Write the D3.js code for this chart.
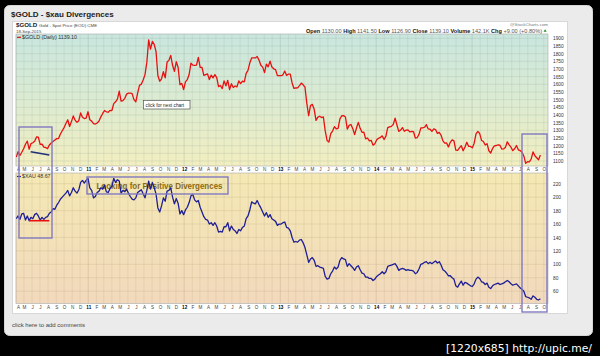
<!DOCTYPE html>
<html><head><meta charset="utf-8">
<script src="https://cdn.jsdelivr.net/npm/d3@7"></script>
<style>html,body{margin:0;padding:0;background:#000;overflow:hidden}svg{display:block;font-family:"Liberation Sans",Arial,sans-serif}</style>
</head><body><svg id="c" width="600" height="356"></svg>
<script>
// ---- data: weekly (Friday) closes, one array per year ----
const yearStarts = ["2010-04-02","2011-01-07","2012-01-06","2013-01-04","2014-01-03","2015-01-02"];
const gold2010 = [1125,1161,1136,1157,1180, 1209,1230,1177,1213, 1219,1229,1257,1256, 1208,1210,1190,1188,1181, 1204,1217,1227,1237, 1246,1246,1276,1297, 1318,1345,1369,1325,1357, 1394,1366,1352,1363, 1413,1385,1377,1380,1421];
const gold2011 = [1369,1360,1343,1341, 1348,1361,1388,1410, 1429,1421,1418,1430, 1429,1474,1486,1504,1556, 1491,1493,1509,1536, 1542,1542,1539,1500, 1486,1542,1593,1601,1628, 1663,1743,1890,1830, 1880,1860,1814,1657,1620, 1636,1682,1642,1745, 1756,1788,1724,1685, 1747,1711,1598,1606,1566];
const gold2012 = [1616,1631,1664,1738, 1725,1724,1725,1776, 1711,1711,1658,1663,1668, 1631,1660,1642,1663, 1644,1585,1592,1572, 1622,1590,1626,1566,1604, 1579,1589,1583,1622, 1605,1620,1616,1671,1691, 1740,1772,1773,1772, 1781,1758,1724,1712, 1676,1731,1714,1751,1713, 1701,1696,1657,1656];
const gold2013 = [1656,1662,1687,1658, 1667,1667,1609,1573, 1576,1577,1592,1608,1597, 1581,1476,1395,1462, 1469,1437,1365,1386,1392, 1383,1387,1296,1234, 1223,1278,1295,1324, 1310,1312,1375,1395,1396, 1387,1308,1332,1338, 1310,1272,1315,1352, 1313,1287,1288,1244,1250, 1231,1235,1203,1213];
const gold2014 = [1238,1248,1254,1264,1240, 1262,1318,1323,1326, 1339,1379,1335,1293, 1302,1318,1294,1301, 1302,1290,1293,1292,1250, 1252,1274,1316,1316, 1320,1337,1309,1307, 1293,1309,1305,1280,1287, 1268,1231,1216,1218, 1192,1222,1238,1231,1171, 1169,1185,1200,1167, 1191,1222,1195,1195];
const gold2015 = [1186,1216,1277,1293,1279, 1234,1227,1204,1213, 1167,1152,1182,1199, 1201,1205,1203,1178, 1179,1189,1225,1205,1190, 1168,1180,1201,1173, 1168,1157,1133,1085,1095, 1094,1113,1160,1134, 1121,1108,1139.1];

const xau2010 = [168,172,167,175,176, 166,172,165,170, 168,174,176,172, 166,170,167,170,171, 176,178,183,182, 188,192,197,200, 203,206,210,202,207, 214,209,206,211, 222,225,221,225,228];
const xau2011 = [214,210,199,201, 207,209,214,212, 218,208,207,213, 216,228,222,226,224, 206,210,208,212, 206,201,197,196, 199,207,209,211,205, 199,210,224,212, 222,214,205,184,178, 187,199,194,209, 210,214,200,190, 198,191,175,180,174];
const xau2012 = [181,185,192,202, 204,196,193,195, 185,178,171,167,166, 160,162,158,162, 157,148,149,148, 156,156,162,150,157, 152,150,146,152, 150,155,157,168,172, 181,193,191,190, 195,189,184,178, 172,177,170,174,168, 166,164,158,160];
const xau2013 = [160,162,163,155, 154,150,140,133, 134,133,136,137,132, 125,114,103,108, 110,106,97,98,96, 95,94,82,78, 79,86,90,96, 93,96,106,110,108, 107,97,101,98, 95,91,96,98, 92,87,86,81,81, 79,79,76,78];
const xau2014 = [82,84,86,89,86, 89,97,98,99, 100,101,97,91, 93,94,93,91, 92,91,91,90,86, 88,93,100,101, 103,104,101,103, 101,103,105,102,104, 99,92,90,87, 83,83,80,78,68, 66,71,75,69, 73,72,70,68];
const xau2015 = [67,71,78,81,79, 74,73,70,72, 66,64,68,70, 71,72,70,71, 72,74,76,74,71, 69,70,71,68, 65,63,60,52,51, 50,48,53,51, 48,47,48.67];

const goldTicks = [1100,1150,1200,1250,1300,1350,1400,1450,1500,1550,1600,1650,1700,1750,1800,1850,1900];
const xauTicks = [60,80,100,120,140,160,180,200,220];
const monthLetters = ["J","F","M","A","M","J","J","A","S","O","N","D"];

// ---- build series ----
const parse = d3.timeParse("%Y-%m-%d");
function build(arrs){
  const out=[];
  arrs.forEach((a,k)=>{const s=parse(yearStarts[k]); a.forEach((v,i)=>out.push({date:d3.timeDay.offset(s,7*i),v}));});
  return out;
}
const goldData = build([gold2010,gold2011,gold2012,gold2013,gold2014,gold2015]);
const xauData = build([xau2010,xau2011,xau2012,xau2013,xau2014,xau2015]);

// ---- layout ----
const L=16, R=548, T1=34, B1=166, T2=173, B2=303.5;
const x = d3.scaleTime().domain([new Date(2010,3,1), new Date(2015,9,17)]).range([L,R]);
const yG = d3.scaleLinear().domain([1067.4,1928]).range([B1,T1]);
const yX = d3.scaleLinear().domain([41.7,236]).range([B2,T2]);

const svg = d3.select("#c");
const defs = svg.append("defs");
const g1 = defs.append("linearGradient").attr("id","gt").attr("x1",0).attr("y1",0).attr("x2",0).attr("y2",1);
g1.append("stop").attr("offset","0%").attr("stop-color","#c9e6de");
g1.append("stop").attr("offset","50%").attr("stop-color","#dcebd2");
g1.append("stop").attr("offset","100%").attr("stop-color","#f2eec0");
const g2 = defs.append("linearGradient").attr("id","gb").attr("x1",0).attr("y1",0).attr("x2",0).attr("y2",1);
g2.append("stop").attr("offset","0%").attr("stop-color","#f4e9b4");
g2.append("stop").attr("offset","100%").attr("stop-color","#f2d9bd");
defs.append("clipPath").attr("id","c1").append("rect").attr("x",L).attr("y",T1).attr("width",R-L).attr("height",B1-T1);
defs.append("clipPath").attr("id","c2").append("rect").attr("x",L).attr("y",T2).attr("width",R-L).attr("height",B2-T2);

svg.append("rect").attr("width",600).attr("height",356).attr("fill","#000");
svg.append("rect").attr("x",4.5).attr("y",5.5).attr("width",588).attr("height",330).attr("rx",5).attr("fill","#ebebeb").attr("stroke","#d6d6d6");
svg.append("text").attr("x",11).attr("y",16.5).attr("font-size",8).attr("font-weight","bold").attr("fill","#222").text("$GOLD - $xau Divergences");
svg.append("rect").attr("x",12.5).attr("y",21.5).attr("width",555).attr("height",292).attr("fill","#fff").attr("stroke","#d8d8d8");
svg.append("text").attr("x",12).attr("y",327).attr("font-size",6).attr("fill","#444").text("click here to add comments");
svg.append("text").attr("x",446).attr("y",352).attr("font-size",10.5).attr("fill","#fff").attr("font-family","DejaVu Sans Condensed, DejaVu Sans")
  .attr("textLength",146).attr("lengthAdjust","spacingAndGlyphs").text("[1220x685] http://upic.me/");

// panels
svg.append("rect").attr("x",L).attr("y",T1).attr("width",R-L).attr("height",B1-T1).attr("fill","url(#gt)");
svg.append("rect").attr("x",L).attr("y",T2).attr("width",R-L).attr("height",B2-T2).attr("fill","url(#gb)");

// grid
const months = d3.timeMonth.range(new Date(2010,3,1), new Date(2015,9,17));
const grid = svg.append("g").attr("stroke-width",0.6);
[[T1,B1,"#7f9c8c"],[T2,B2,"#a89060"]].forEach(([t,b,c])=>{
  grid.selectAll(null).data(months).enter().append("line")
    .attr("x1",d=>x(d)).attr("x2",d=>x(d)).attr("y1",t).attr("y2",b)
    .attr("stroke",c).attr("stroke-opacity",d=>d.getMonth()===0?0.45:0.25);
});
grid.selectAll(null).data(goldTicks).enter().append("line").attr("x1",L).attr("x2",R)
  .attr("y1",d=>yG(d)).attr("y2",d=>yG(d)).attr("stroke","#7f9c8c").attr("stroke-opacity",0.3);
grid.selectAll(null).data(xauTicks).enter().append("line").attr("x1",L).attr("x2",R)
  .attr("y1",d=>yX(d)).attr("y2",d=>yX(d)).attr("stroke","#a89060").attr("stroke-opacity",0.3);

// panel borders
svg.append("rect").attr("x",L).attr("y",T1).attr("width",R-L).attr("height",B1-T1).attr("fill","none").attr("stroke","#aaa").attr("stroke-width",0.6);
svg.append("rect").attr("x",L).attr("y",T2).attr("width",R-L).attr("height",B2-T2).attr("fill","none").attr("stroke","#aaa").attr("stroke-width",0.6);

// axes
function styleAxis(g,fs){g.select(".domain").remove();g.selectAll("text").attr("font-size",fs).attr("fill","#333").attr("font-family","Liberation Sans, Arial, sans-serif");}
svg.append("g").attr("transform",`translate(${R},0)`).call(d3.axisRight(yG).tickValues(goldTicks).tickFormat(d3.format("d")).tickSize(0).tickPadding(5)).call(g=>styleAxis(g,4.8));
svg.append("g").attr("transform",`translate(${R},0)`).call(d3.axisRight(yX).tickValues(xauTicks).tickFormat(d3.format("d")).tickSize(0).tickPadding(5)).call(g=>styleAxis(g,4.8));
const mfmt = d=>d.getMonth()===0?String(d.getFullYear()).slice(2):monthLetters[d.getMonth()];
[167.3,305.5].forEach(yy=>{
  svg.append("g").attr("transform",`translate(0,${yy})`)
    .call(d3.axisBottom(x).tickValues(months).tickFormat(mfmt).tickSize(0).tickPadding(0))
    .call(g=>{styleAxis(g,4.6); g.selectAll("text").attr("font-weight",d=>d.getMonth()===0?"bold":"normal").attr("fill",d=>d.getMonth()===0?"#000":"#444")
      .attr("dx",(d,i)=>i===0?2:0);});
});

// header texts inside chart image
const hdr = svg.append("g").attr("fill","#222");
hdr.append("text").attr("x",16).attr("y",26.5).attr("font-size",6.2).attr("font-weight","bold").text("$GOLD");
hdr.append("text").attr("x",39).attr("y",26.5).attr("font-size",4.4).attr("fill","#444").text("Gold - Spot Price (EOD)  CME");
hdr.append("text").attr("x",16).attr("y",33).attr("font-size",4.4).attr("fill","#444").text("18-Sep-2015");
hdr.append("text").attr("x",548).attr("y",26).attr("font-size",4.4).attr("fill","#777").attr("text-anchor","end").text("@StockCharts.com");
const ohlc = hdr.append("text").attr("x",306).attr("y",32.7).attr("font-size",4.9).attr("textLength",236).attr("lengthAdjust","spacingAndGlyphs");
[["Open ",1],["1130.00  ",0],["High ",1],["1141.50  ",0],["Low ",1],["1126.90  ",0],["Close ",1],["1139.10  ",0],["Volume ",1],["142.1K  ",0],["Chg ",1],["+9.00 (+0.80%) ",0]]
  .forEach(([t,b])=>ohlc.append("tspan").attr("font-weight",b?"bold":"normal").attr("fill",b?"#111":"#555").text(t));
svg.append("path").attr("d","M543.5,31.8 l1.6,-2.6 l1.6,2.6z").attr("fill","#2a8a2a");

// legends
svg.append("line").attr("x1",17).attr("x2",21).attr("y1",37.3).attr("y2",37.3).attr("stroke","#e01010").attr("stroke-width",1.2);
svg.append("text").attr("x",22).attr("y",39).attr("font-size",5.3).attr("fill","#333").text("$GOLD (Daily) 1139.10");
svg.append("line").attr("x1",17).attr("x2",21).attr("y1",176.5).attr("y2",176.5).attr("stroke","#22229a").attr("stroke-width",1.2);
svg.append("text").attr("x",22).attr("y",178.3).attr("font-size",5.3).attr("fill","#333").text("$XAU 48.67");

// annotation text (under the line)
svg.append("text").attr("x",96.5).attr("y",188.5).attr("font-size",8.8).attr("font-weight","bold").attr("fill","#8a6a14")
  .attr("textLength",126).attr("lengthAdjust","spacingAndGlyphs").text("Looking for Positive Divergences");

// price lines
const lineG = d3.line().x(d=>x(d.date)).y(d=>yG(d.v));
const lineX = d3.line().x(d=>x(d.date)).y(d=>yX(d.v));
svg.append("path").datum(goldData).attr("clip-path","url(#c1)").attr("d",lineG).attr("fill","none").attr("stroke","#e81010").attr("stroke-width",1.3).attr("stroke-linejoin","round");
svg.append("path").datum(xauData).attr("clip-path","url(#c2)").attr("d",lineX).attr("fill","none").attr("stroke","#1e1e96").attr("stroke-width",1.3).attr("stroke-linejoin","round");

// annotations
const ann = svg.append("g").attr("fill","none").attr("stroke","#8079c0").attr("stroke-width",1.4);
ann.append("rect").attr("x",19).attr("y",127).attr("width",33).attr("height",111);
ann.append("rect").attr("x",522).attr("y",134).attr("width",25).attr("height",178);
ann.append("rect").attr("x",87).attr("y",177).attr("width",141).attr("height",17);
svg.append("line").attr("x1",30.7).attr("y1",151.7).attr("x2",49.3).attr("y2",155).attr("stroke","#20307a").attr("stroke-width",1.6);
svg.append("line").attr("x1",29).attr("y1",220.7).attr("x2",49.3).attr("y2",220.7).attr("stroke","#e81010").attr("stroke-width",1.6);
svg.append("rect").attr("x",143.5).attr("y",100.5).attr("width",46.5).attr("height",8.5).attr("fill","#fff").attr("stroke","#555").attr("stroke-width",0.7);
svg.append("text").attr("x",145.5).attr("y",106.8).attr("font-size",4.8).attr("fill","#222").text("click for next chart");
</script></body></html>
